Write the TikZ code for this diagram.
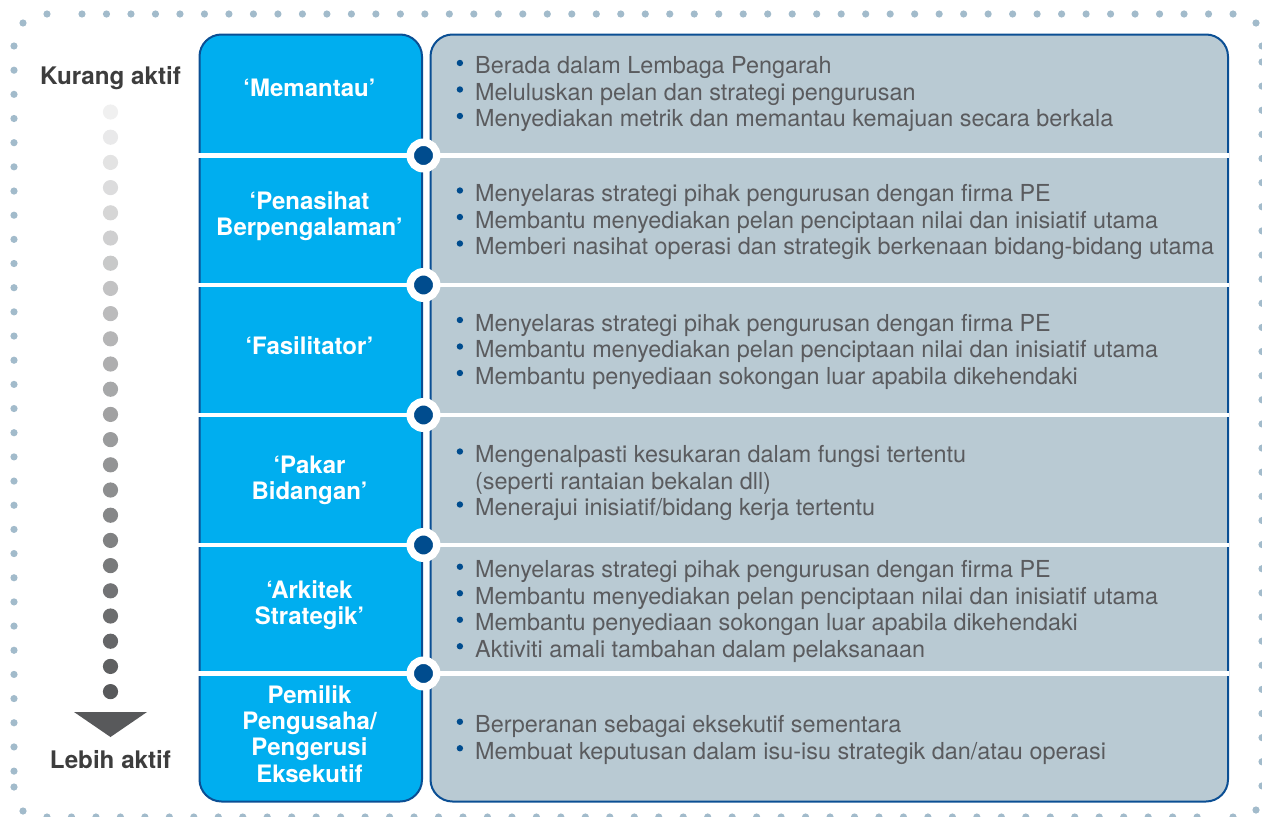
\documentclass[tikz,border=0pt]{standalone}
\usepackage{fontspec}
\setmainfont{TeX Gyre Heros}
\definecolor{boxblue}{HTML}{00AEEF}
\definecolor{edgeblue}{HTML}{0B4F94}
\definecolor{dotblue}{HTML}{004C8E}
\definecolor{boxgray}{HTML}{B9CAD3}
\definecolor{txtgray}{HTML}{5A5B5E}
\definecolor{framedot}{HTML}{A2BBCB}
\definecolor{darklabel}{HTML}{3D3D3D}
\definecolor{dotstart}{HTML}{F0F0F0}
\definecolor{dotend}{HTML}{58595B}
\newcommand\bul{\makebox[20pt][l]{\hspace{1.5pt}\tikz[baseline=0pt]\fill[dotblue] (0,11pt) circle (3.2pt);}}
\newcommand\nobul{\makebox[20pt][l]{}}
\begin{document}
\begin{tikzpicture}[x=1pt,y=-1pt,
  leftbox/.style={draw=edgeblue,line width=2pt,fill=boxblue,rounded corners=22pt,
    minimum width=222.5pt,minimum height=767pt,anchor=north west,inner sep=0pt},
  rightbox/.style={draw=edgeblue,line width=2pt,fill=boxgray,rounded corners=22pt,
    minimum width=797.5pt,minimum height=767pt,anchor=north west,inner sep=0pt},
  sepline/.style={draw=white,line width=4.5pt},
  junction/.style={circle,fill=dotblue,draw=white,line width=7.5pt,minimum size=26.5pt,inner sep=0pt},
  rolelabel/.style={text=white,font=\fontsize{24}{26.3}\selectfont\bfseries,align=center,inner sep=0pt},
  itemtext/.style={text=txtgray,font=\fontsize{23.4}{26.5}\selectfont,align=left,anchor=west,inner sep=0pt},
  endlabel/.style={text=darklabel,font=\fontsize{24.2}{26}\selectfont\bfseries,inner sep=0pt},
]
\useasboundingbox (0,0) rectangle (1262,817);
% dotted frame
\fill[framedot] (47,14) circle (3.6);
\foreach \i in {0,...,47} \fill[framedot] ({82+24.49*\i},14) circle (3.6);
\foreach \i in {0,...,47} \fill[framedot] ({47+24.47*\i},817) circle (3.6);
\fill[framedot] (1233,817) circle (3.6);
\foreach \i in {0,...,30} \fill[framedot] (14,{46+24.17*\i}) circle (3.6);
\fill[framedot] (14,787) circle (3.6);
\fill[framedot] (1262,46) circle (3.6);
\foreach \i in {0,...,30} \fill[framedot] (1262,{62+24.13*\i}) circle (3.6);
\foreach \p in {(23,23),(1256,23),(1256,810),(23,811)} \fill[framedot] \p circle (3.6);
% gradient dots and arrow
\foreach \i in {0,...,23} {
  \pgfmathsetmacro\pc{100*\i/23}
  \fill[dotend!\pc!dotstart] (110.5,{112+25.2*\i}) circle (7.6);
}
\fill[dotend] (74,712) -- (147,712) -- (110.5,737) -- cycle;
\node[endlabel] (less) at (110.5,78) {Kurang aktif};
\node[endlabel] (more) at (110.5,760) {Lebih aktif};
% boxes
\node[leftbox] (lbox) at (198.5,33.5) {};
\node[rightbox] (rbox) at (429.5,33.5) {};
% separators and junctions
\foreach \k/\yy in {1/155.5,2/285,3/415,4/545,5/673.5} {
  \coordinate (sa\k) at (197,\yy);
  \coordinate (sb\k) at (1228.5,\yy);
  \draw[sepline] (sa\k) -- (sb\k);
  \node[junction] (j\k) at (423.5,\yy) {};
}
% role labels
\node[rolelabel] (r1) at (309.5,88) {‘Memantau’};
\node[rolelabel] (r2) at (309.5,216.5) {‘Penasihat\\Berpengalaman’};
\node[rolelabel] (r3) at (309.5,346) {‘Fasilitator’};
\node[rolelabel] (r4) at (309.5,480.5) {‘Pakar\\Bidangan’};
\node[rolelabel] (r5) at (309.5,605.5) {‘Arkitek\\Strategik’};
\node[rolelabel] (r6) at (309.5,734) {Pemilik\\Pengusaha/\\Pengerusi\\Eksekutif};
% item texts
\node[itemtext] (t1) at (455,94.5) {\bul Berada dalam Lembaga Pengarah\\\bul Meluluskan pelan dan strategi pengurusan\\\bul Menyediakan metrik dan memantau kemajuan secara berkala};
\node[itemtext] (t2) at (455,222) {\bul Menyelaras strategi pihak pengurusan dengan firma PE\\\bul Membantu menyediakan pelan penciptaan nilai dan inisiatif utama\\\bul Memberi nasihat operasi dan strategik berkenaan bidang-bidang utama};
\node[itemtext] (t3) at (455,351.5) {\bul Menyelaras strategi pihak pengurusan dengan firma PE\\\bul Membantu menyediakan pelan penciptaan nilai dan inisiatif utama\\\bul Membantu penyediaan sokongan luar apabila dikehendaki};
\node[itemtext] (t4) at (455,483) {\bul Mengenalpasti kesukaran dalam fungsi tertentu\\\nobul (seperti rantaian bekalan dll)\\\bul Menerajui inisiatif/bidang kerja tertentu};
\node[itemtext] (t5) at (455,611.5) {\bul Menyelaras strategi pihak pengurusan dengan firma PE\\\bul Membantu menyediakan pelan penciptaan nilai dan inisiatif utama\\\bul Membantu penyediaan sokongan luar apabila dikehendaki\\\bul Aktiviti amali tambahan dalam pelaksanaan};
\node[itemtext] (t6) at (455,740) {\bul Berperanan sebagai eksekutif sementara\\\bul Membuat keputusan dalam isu-isu strategik dan/atau operasi};
\end{tikzpicture}
\end{document}
